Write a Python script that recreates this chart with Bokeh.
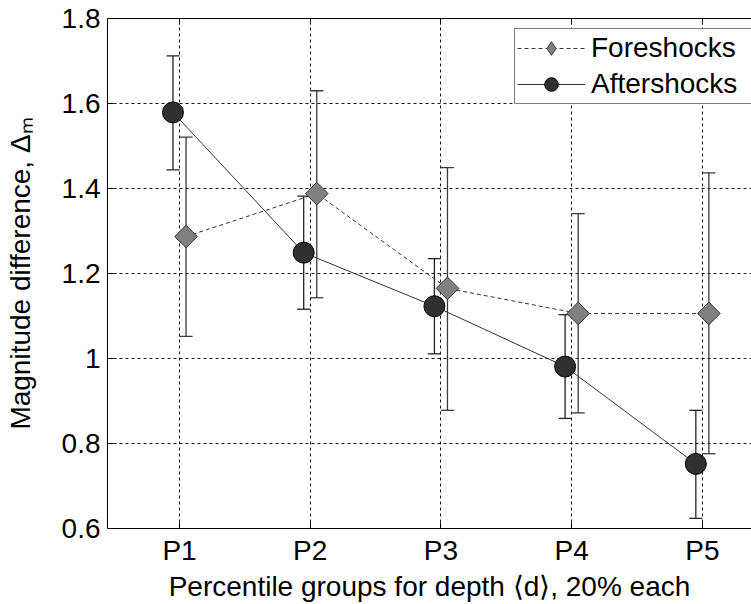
import numpy as np
from bokeh.plotting import figure
from bokeh.models import (Range1d, FixedTicker, LinearAxis, Whisker, ColumnDataSource,
                          Legend, LegendItem, PrintfTickFormatter, TeeHead)
from bokeh.embed import file_html
from bokeh.resources import INLINE

# ---------------- data ----------------
categories = ["P1", "P2", "P3", "P4", "P5"]

fore_mean = [1.287, 1.388, 1.165, 1.106, 1.106]
fore_upper = [1.521, 1.630, 1.449, 1.341, 1.437]
fore_lower = [1.052, 1.143, 0.878, 0.872, 0.776]

after_mean = [1.579, 1.249, 1.123, 0.981, 0.752]
after_upper = [1.712, 1.382, 1.235, 1.103, 0.878]
after_lower = [1.444, 1.116, 1.011, 0.859, 0.624]

y_ticks = [0.6, 0.8, 1.0, 1.2, 1.4, 1.6, 1.8]

x_title = "Percentile groups for depth \u27e8d\u27e9, 20% each"
y_title = "Magnitude difference, \u0394\u2098"
legend_labels = ["Foreshocks", "Aftershocks"]

# ---------------- styling ----------------
FONT = "Liberation Sans"
FS = "28px"
pos = np.arange(1, len(categories) + 1, dtype=float)
off = 0.05

src_f = ColumnDataSource(dict(x=pos + off, y=fore_mean, up=fore_upper, lo=fore_lower))
src_a = ColumnDataSource(dict(x=pos - off, y=after_mean, up=after_upper, lo=after_lower))

p = figure(width=751, height=604, output_backend="svg", toolbar_location=None,
           x_range=Range1d(0.449, 5.376), y_range=Range1d(0.6, 1.8),
           min_border_left=107, min_border_right=0, min_border_top=18, min_border_bottom=74)
p.outline_line_color = None
p.background_fill_color = "white"
p.border_fill_color = "white"

# axes
xt = FixedTicker(ticks=list(pos))
yt = FixedTicker(ticks=y_ticks)
p.xaxis.ticker = xt
p.xaxis.major_label_overrides = {i + 1: c for i, c in enumerate(categories)}
p.yaxis.ticker = yt
p.yaxis.formatter = PrintfTickFormatter(format="%g")
for ax in (p.xaxis, p.yaxis):
    ax.major_label_text_font = FONT
    ax.major_label_text_font_size = FS
    ax.major_label_text_color = "black"
    ax.major_tick_in = 6
    ax.major_tick_out = 0
    ax.minor_tick_line_color = None
    ax.axis_line_color = "black"
    ax.major_tick_line_color = "black"
    ax.axis_label_text_font = FONT
    ax.axis_label_text_font_size = FS
    ax.axis_label_text_font_style = "normal"
    ax.axis_label_text_color = "black"
p.yaxis.major_label_standoff = 7
p.xaxis.major_label_standoff = 6
p.xaxis.axis_label = x_title
p.xaxis.axis_label_standoff = 2
p.yaxis.axis_label = y_title
p.yaxis.axis_label_standoff = 23

# top border with inward tick marks (no labels)
top = LinearAxis(ticker=FixedTicker(ticks=[], minor_ticks=list(pos)),
                 major_tick_line_color=None, minor_tick_in=6, minor_tick_out=0,
                 minor_tick_line_color="black", axis_line_color="black",
                 major_label_standoff=0)
p.add_layout(top, "above")

# grid
p.xgrid.ticker = xt
p.ygrid.ticker = yt
for g in (p.xgrid, p.ygrid):
    g.grid_line_color = "black"
    g.grid_line_dash = "3 3"
    g.grid_line_width = 1
    g.grid_line_alpha = 0.9

# error bars
for src, col in ((src_f, "#3a3a3a"), (src_a, "#222222")):
    w = Whisker(source=src, base="x", upper="up", lower="lo", dimension="height",
                line_color=col, line_width=1.3,
                upper_head=TeeHead(size=13, line_color=col, line_width=1.3),
                lower_head=TeeHead(size=13, line_color=col, line_width=1.3))
    p.add_layout(w)

# series
lf = p.line("x", "y", source=src_f, line_color="#333333", line_width=1, line_dash="4 3")
# diamond glyph used for the legend (legend markers are never rotated); it sits hidden
# underneath the rotated-square markers of the same series
mf_leg = p.scatter("x", "y", source=src_f, marker="diamond", size=22,
                   fill_color="#808080", line_color="#333333", line_width=1)
mf = p.scatter("x", "y", source=src_f, marker="square", angle=np.pi / 4, size=16,
               fill_color="#808080", line_color="#333333", line_width=1)
la = p.line("x", "y", source=src_a, line_color="#333333", line_width=1)
ma = p.scatter("x", "y", source=src_a, marker="circle", size=21,
               fill_color="#303030", line_color="#000000", line_width=1)

legend = Legend(items=[LegendItem(label=legend_labels[0], renderers=[lf, mf_leg]),
                       LegendItem(label=legend_labels[1], renderers=[la, ma])],
                location=(407, 424), glyph_width=68, glyph_height=34, label_height=28,
                label_width=175, label_standoff=6, spacing=2, padding=2, margin=0,
                label_text_font=FONT, label_text_font_size=FS, label_text_color="black",
                border_line_color="black", border_line_width=1,
                background_fill_color="white", background_fill_alpha=1)
p.add_layout(legend, "center")

open("out.html", "w").write(file_html(p, INLINE))
